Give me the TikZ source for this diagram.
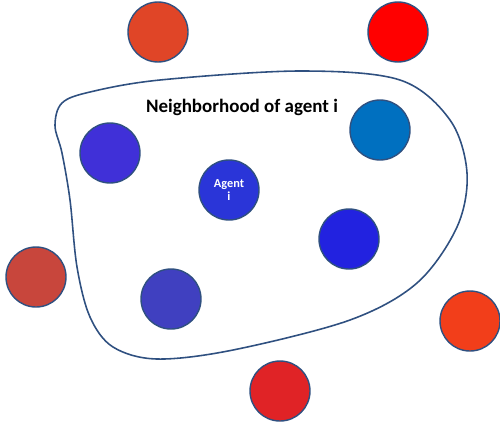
\documentclass[tikz,border=0pt]{standalone}
\usepackage{fontspec}
\setmainfont{Carlito}
\definecolor{rimblue}{HTML}{2F5080}
\definecolor{outRA}{HTML}{E04527}
\definecolor{outRB}{HTML}{FF0000}
\definecolor{outRC}{HTML}{C8463C}
\definecolor{outRD}{HTML}{F23E1A}
\definecolor{outRE}{HTML}{E02326}
\definecolor{inBA}{HTML}{0070C0}
\definecolor{inBB}{HTML}{4030D8}
\definecolor{inBC}{HTML}{2222E0}
\definecolor{inBD}{HTML}{4040C0}
\definecolor{selfB}{HTML}{2A35D8}
\begin{document}
\begin{tikzpicture}[agent/.style={circle,draw=rimblue,line width=0.8pt,minimum size=1.2cm,inner sep=0pt}]
	\useasboundingbox (0,0) rectangle (10,8.56);
	% neighbourhood boundary
	\draw[rimblue,line width=0.9pt] plot[smooth cycle,tension=0.55] coordinates {(1.8,6.72) (3.2,6.96) (6.0,7.14) (8.0,6.96) (9.0,6.16) (9.34,5.10) (9.14,4.02) (8.34,2.90) (7.0,2.16) (4.66,1.56) (3.14,1.38) (2.26,1.62) (1.8,2.22) (1.54,3.22) (1.4,4.56) (1.24,5.5) (1.1,6.05) (1.24,6.5)};
	\node (title) at (4.84,6.42) {\fontsize{10.8}{13}\selectfont\bfseries Neighborhood of agent i};

	% agent i and its neighbours
	\node[agent,fill=selfB,text=white,align=center,font=\fontsize{7}{7.5}\selectfont\bfseries] (self) at (4.58,4.76) {Agent\\i};
	\node[agent,fill=inBA] (nbA) at (7.6,5.96) {};
	\node[agent,fill=inBB] (nbB) at (2.2,5.5) {};
	\node[agent,fill=inBC] (nbC) at (6.98,3.78) {};
	\node[agent,fill=inBD] (nbD) at (3.42,2.58) {};

	% agents outside
	\node[agent,fill=outRA] (outA) at (3.16,7.92) {};
	\node[agent,fill=outRB] (outB) at (7.96,7.92) {};
	\node[agent,fill=outRC] (outC) at (0.72,3.02) {};
	\node[agent,fill=outRD] (outD) at (9.4,2.14) {};
	\node[agent,fill=outRE] (outE) at (5.6,0.74) {};
\end{tikzpicture}
\end{document}
